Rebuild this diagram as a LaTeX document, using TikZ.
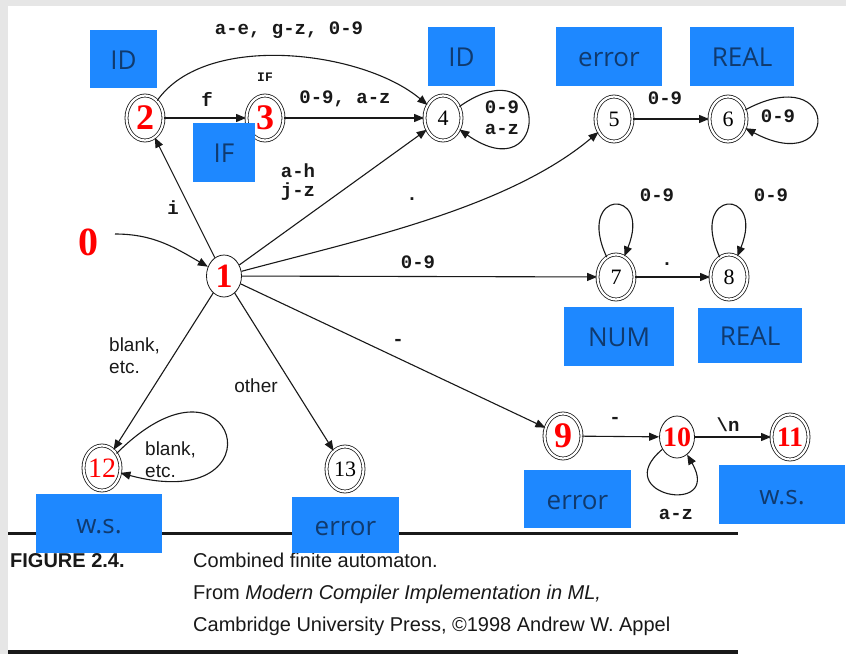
\documentclass[tikz,border=0pt]{standalone}
\usepackage{fontspec}
\setmainfont{Liberation Serif}
\setsansfont{Liberation Sans}
\setmonofont{Liberation Mono}
\newfontfamily\tagfont{Open Sans}
\usetikzlibrary{arrows.meta,shapes.geometric}

\definecolor{tagblue}{RGB}{30,136,255}
\definecolor{tagink}{RGB}{16,58,110}
\definecolor{framegray}{RGB}{230,230,230}
\definecolor{ink}{RGB}{25,25,25}
\definecolor{hotred}{RGB}{255,0,0}

\tikzset{
  stnode/.style={ellipse, draw=ink, line width=0.8pt, minimum width=35pt,
                 minimum height=42pt, inner sep=0pt,
                 font=\fontsize{22}{22}\selectfont},
  acc/.style={stnode, double=white, double distance=2.2pt,
              minimum width=37pt, minimum height=45pt},
  trans/.style={draw=ink, line width=1.1pt, -{Triangle[length=10pt,width=8pt]}},
  lbl/.style={inner sep=0pt, text=ink, font=\ttfamily\bfseries\fontsize{19}{20}\selectfont},
  slbl/.style={inner sep=0pt, text=ink, align=left,
               font=\sffamily\fontsize{19}{22}\selectfont},
  tag/.style={fill=tagblue, text=tagink, inner sep=0pt,
              font=\tagfont\fontsize{26}{26}\selectfont,
              text height=20pt, text depth=0pt},
  captext/.style={inner sep=0pt, anchor=base west, text=ink,
              font=\sffamily\fontsize{20}{20}\selectfont},
}

\begin{document}
\begin{tikzpicture}[x=1pt,y=1pt]
  % page frame
  \fill[framegray] (0,0) rectangle (846,-654);
  \fill[white] (8,-6) rectangle (846,-654);
  \useasboundingbox (0,0) rectangle (846,-654);

  % states
  \node[stnode] (n1) at (224,-276) {\makebox[0pt]{\textcolor{hotred}{\bfseries\fontsize{34}{34}\selectfont 1}}};
  \node[acc]    (n2) at (145,-118) {\makebox[0pt]{\textcolor{hotred}{\bfseries\fontsize{36}{36}\selectfont 2}}};
  \node[acc]    (n3) at (265,-118) {\makebox[0pt]{\textcolor{hotred}{\bfseries\fontsize{36}{36}\selectfont 3}}};
  \node[acc]    (n4) at (443,-118) {4};
  \node[acc]    (n5) at (614,-119) {5};
  \node[acc]    (n6) at (728,-119) {6};
  \node[acc]    (n7) at (616,-277) {7};
  \node[acc]    (n8) at (729,-277) {8};
  \node[acc]    (n9) at (563,-436) {\makebox[0pt]{\textcolor{hotred}{\bfseries\fontsize{36}{36}\selectfont 9}}};
  \node[stnode] (n10) at (677,-437) {\makebox[0pt]{\textcolor{hotred}{\bfseries\fontsize{28}{28}\selectfont 10}}};
  \node[acc]    (n11) at (790,-437) {\makebox[0pt]{\textcolor{hotred}{\bfseries\fontsize{28}{28}\selectfont 11}}};
  \node[acc]    (n12) at (102,-468) {\makebox[0pt]{\textcolor{hotred}{\fontsize{28}{28}\selectfont 12}}};
  \node[acc]    (n13) at (345,-469) {\makebox[0pt]{13}};

  % start marker
  \node[inner sep=0pt, text=hotred, font=\fontsize{40}{40}\selectfont\bfseries] (zero) at (88,-242) {0};
  \coordinate (s0) at (115,-234);
  \draw[trans] (s0) to[out=0,in=150] (n1);

  % transitions
  \draw[trans] (n1) -- (n2);
  \draw[trans] (n2) -- (n3);
  \draw[trans] (n3) -- (n4);
  \draw[trans] (n2) to[out=55,in=140,looseness=0.8] (n4);
  \draw[trans] (n1) -- (n4);
  \draw[trans] (n4) to[out=35,in=-35,distance=112pt] (n4);
  \draw[trans] (n1) to[out=15,in=-140,looseness=0.8] (n5);
  \draw[trans] (n5) -- (n6);
  \draw[trans] (n6) to[out=28,in=-28,distance=108pt] (n6);
  \draw[trans] (n1) -- (n7);
  \draw[trans] (n7) to[out=115,in=68,distance=75pt] (n7);
  \draw[trans] (n7) -- (n8);
  \draw[trans] (n8) to[out=115,in=68,distance=75pt] (n8);
  \draw[trans] (n1) -- (n9);
  \draw[trans] (n9) -- (n10);
  \draw[trans] (n10) -- (n11);
  \draw[trans] (n10) to[out=-140,in=-60,distance=72pt] (n10);
  \draw[trans] (n1) -- (n12);
  \draw[trans] (n12) to[out=45,in=-15,distance=170pt] (n12);
  \draw[trans] (n1) -- (n13);

  % transition labels
  \node[lbl] (l24)  at (289,-30)  {a-e, g-z, 0-9};
  \node[lbl] (l23)  at (207,-99)  {f};
  \node[lbl, font=\ttfamily\bfseries\fontsize{13}{13}\selectfont] (lif) at (265,-77) {IF};
  \node[lbl] (l34)  at (345,-99)  {0-9, a-z};
  \node[lbl, align=center, font=\ttfamily\bfseries\fontsize{19}{19}\selectfont] (l14) at (298,-182) {a-h\\j-z};
  \node[lbl] (l12)  at (173,-208) {i};
  \node[lbl, align=center, font=\ttfamily\bfseries\fontsize{19}{21}\selectfont] (l44) at (502,-118) {0-9\\a-z};
  \node[lbl] (l15)  at (412,-199) {.};
  \node[lbl] (l56)  at (665,-98)  {0-9};
  \node[lbl] (l66)  at (778,-116) {0-9};
  \node[lbl] (l77)  at (657,-195) {0-9};
  \node[lbl] (l88)  at (771,-195) {0-9};
  \node[lbl] (l17)  at (418,-262) {0-9};
  \node[lbl] (l78)  at (667,-264) {.};
  \node[lbl] (l19)  at (398,-342) {-};
  \node[lbl] (l910) at (615,-420) {-};
  \node[lbl] (l1011) at (728,-425) {\textbackslash n};
  \node[lbl] (l1010) at (676,-514) {a-z};
  \node[slbl, anchor=west] (l112) at (109,-356) {blank,\\etc.};
  \node[slbl, anchor=west] (l1212) at (145,-460) {blank,\\etc.};
  \node[slbl] (l113) at (256,-386) {other};

  % caption rules and text
  \fill[ink] (8,-531.5) rectangle (738,-534.5);
  \fill[ink] (8,-649.5) rectangle (738,-653.5);
  \node[captext, font=\sffamily\bfseries\fontsize{20}{20}\selectfont] (capnum) at (10,-567) {FIGURE 2.4.};
  \node[captext] (cap1) at (193,-567) {Combined finite automaton.};
  \node[captext] (cap2) at (193,-599) {From \textit{Modern Compiler Implementation in ML,}};
  \node[captext] (cap3) at (193,-631) {Cambridge University Press, \textcopyright1998 Andrew W. Appel};

  % token tags
  \node[tag, minimum width=67pt,  minimum height=58pt] (t2)  at (123.5,-59)  {ID};
  \node[tag, minimum width=62pt,  minimum height=59pt] (t3)  at (224,-152.5) {IF};
  \node[tag, minimum width=67pt,  minimum height=59pt] (t4)  at (461.5,-56.5) {ID};
  \node[tag, minimum width=106pt, minimum height=59pt] (t5)  at (609,-56.5)  {error};
  \node[tag, minimum width=104pt, minimum height=59pt] (t6)  at (742,-56.5)  {REAL};
  \node[tag, minimum width=110pt, minimum height=59pt] (t7)  at (619,-336.5) {NUM};
  \node[tag, minimum width=104pt, minimum height=55pt] (t8)  at (750,-335.5) {REAL};
  \node[tag, minimum width=107pt, minimum height=58pt] (t9)  at (577.5,-499) {error};
  \node[tag, minimum width=126pt, minimum height=59pt] (t11) at (782,-494.5) {w.s.};
  \node[tag, minimum width=126pt, minimum height=59pt] (t12) at (99,-523.5)  {w.s.};
  \node[tag, minimum width=107pt, minimum height=56pt] (t13) at (345.5,-525) {error};
\end{tikzpicture}
\end{document}
